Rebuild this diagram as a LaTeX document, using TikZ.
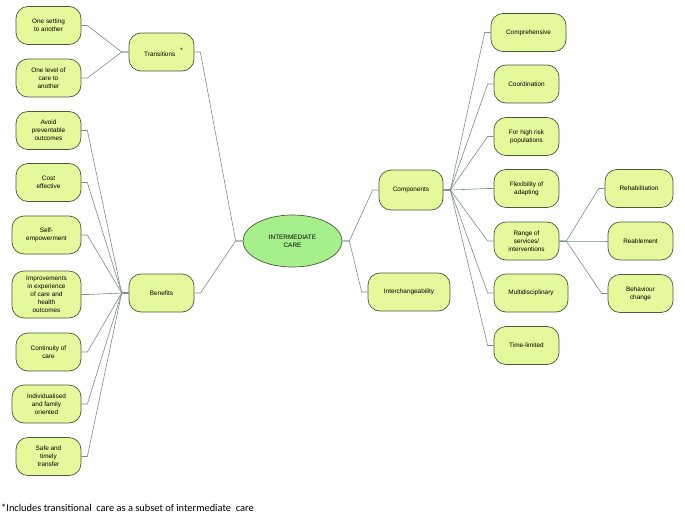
\documentclass[tikz,border=0pt]{standalone}
\usepackage{fontspec}
\setmainfont{Liberation Sans}
\newfontfamily\footfont{Carlito}
\usetikzlibrary{calc,shapes.geometric}
\definecolor{boxfill}{HTML}{E4F99B}
\definecolor{ellfill}{HTML}{A6F08C}
\definecolor{boxline}{HTML}{4E5838}
\definecolor{connline}{HTML}{7C8C8C}
\tikzset{
  box/.style={draw=boxline, fill=boxfill, line width=0.7pt, rounded corners=12pt,
    minimum height=38pt, inner sep=1pt, align=center,
    font=\fontsize{6.4}{8}\selectfont},
  core/.style={draw=boxline, fill=ellfill, line width=0.7pt, ellipse,
    minimum width=99pt, minimum height=52pt, inner sep=0pt, align=center,
    font=\fontsize{6.4}{8}\selectfont},
  conn/.style={draw=connline, line width=0.6pt},
}
\newcommand{\lconn}[2]{\draw[conn] (#1.east) -- ++(6,0) -- ($(#2.west)+(-7,0)$) -- (#2.west);}
\newcommand{\rconn}[2]{\draw[conn] (#1.east) -- ++(7,0) -- ($(#2.west)+(-6,0)$) -- (#2.west);}
\begin{document}
\begin{tikzpicture}[x=1pt,y=-1pt]
\useasboundingbox (0,0) rectangle (685,514);
% center
\node[core] (ic) at (292.5,241) {INTERMEDIATE\\CARE};
% left parents
\node[box, minimum width=65pt] (tr) at (161.5,52) {\hspace{4pt}Transitions\hspace{5pt}\raisebox{4pt}{*}};
\node[box, minimum width=65pt] (be) at (161.5,293) {Benefits};
% transitions children
\node[box, minimum width=65pt] (t1) at (48.5,25.5) {One setting\\to another};
\node[box, minimum width=65pt] (t2) at (48.5,78) {One level of\\care to\\another};
% benefits children
\node[box, minimum width=65pt] (b1) at (48.5,130.5) {Avoid\\preventable\\outcomes};
\node[box, minimum width=65pt] (b2) at (48.5,182.5) {Cost\\effective};
\node[box, minimum width=69pt] (b3) at (46.5,235) {Self-\\empowerment};
\node[box, minimum width=69pt, minimum height=47pt] (b4) at (46.5,294.5) {Improvements\\in experience\\of care and\\health\\outcomes};
\node[box, minimum width=65pt] (b5) at (48.5,352) {Continuity of\\care};
\node[box, minimum width=69pt] (b6) at (46.5,404) {Individualised\\and family\\oriented};
\node[box, minimum width=65pt] (b7) at (48.5,456.5) {Safe and\\timely\\transfer};
% right parents
\node[box, minimum width=64pt, minimum height=40pt] (co) at (411,190) {Components};
\node[box, minimum width=82pt] (in) at (409,292) {Interchangeability};
% components children
\node[box, minimum width=75pt] (c1) at (528.5,32.5) {Comprehensive};
\node[box, minimum width=65pt] (c2) at (526.5,84) {Coordination};
\node[box, minimum width=65pt] (c3) at (526.5,136.5) {For high risk\\populations};
\node[box, minimum width=65pt] (c4) at (526.5,188.5) {Flexibility of\\adapting};
\node[box, minimum width=65pt] (c5) at (526.5,241) {Range of\\services/\\interventions};
\node[box, minimum width=74pt] (c6) at (531,293) {Multidisciplinary};
\node[box, minimum width=65pt] (c7) at (526.5,345.5) {Time-limited};
% range children
\node[box, minimum width=68pt] (r1) at (639,188.5) {Rehabilitation};
\node[box, minimum width=65pt] (r2) at (640.5,241) {Reablement};
\node[box, minimum width=65pt] (r3) at (640.5,293.5) {Behaviour\\change};
% connectors
\lconn{t1}{tr}
\lconn{t2}{tr}
\foreach \n in {b1,b2,b3,b4,b5,b6,b7} {\lconn{\n}{be}}
\lconn{tr}{ic}
\lconn{be}{ic}
\rconn{ic}{co}
\rconn{ic}{in}
\foreach \n in {c1,c2,c3,c4,c5,c6,c7} {\rconn{co}{\n}}
\foreach \n in {r1,r2,r3} {\rconn{c5}{\n}}
% footnote
\node[anchor=west, inner sep=0pt, font=\footfont\fontsize{10.4}{12}\selectfont] (fn) at (1,507.5) {*Includes transitional\ \ care as a subset of intermediate\ \ care};
\end{tikzpicture}
\end{document}
